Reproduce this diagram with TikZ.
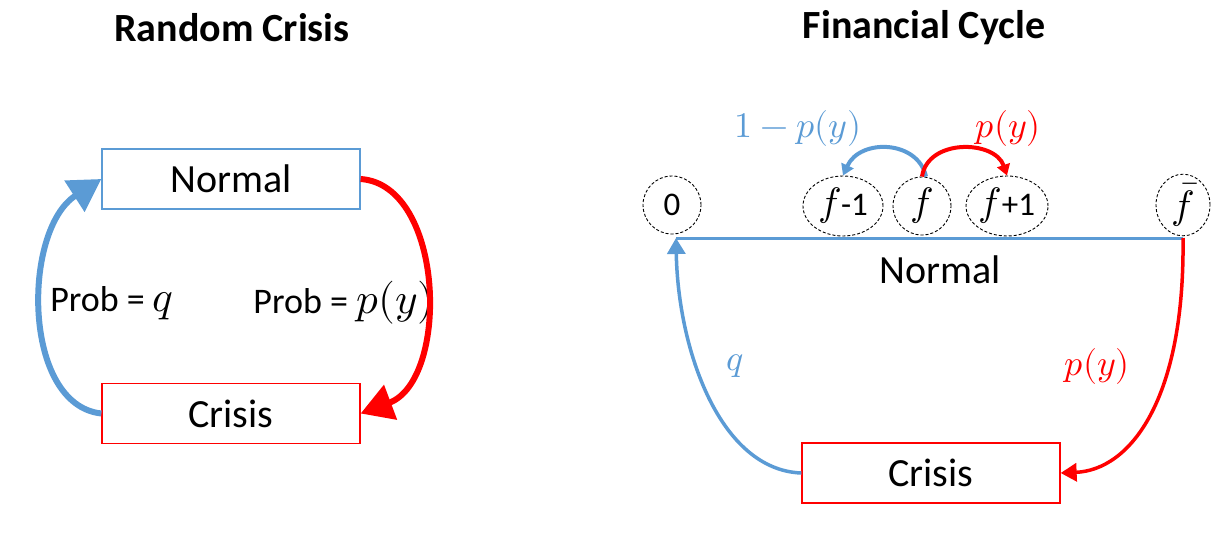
\documentclass[tikz,border=0pt]{standalone}
\usepackage{fontspec}
\usepackage{unicode-math}
\setmainfont{Carlito}
\setmathfont{Latin Modern Math}[Scale=1.2]
\usetikzlibrary{arrows.meta,shapes.geometric}
\definecolor{cblue}{HTML}{5B9BD5}
\definecolor{cred}{HTML}{FF0000}
\tikzset{
  ttl/.style={font=\fontsize{40}{48}\selectfont\bfseries, inner sep=0pt},
  boxtxt/.style={font=\fontsize{40}{48}\selectfont},
  nbox/.style={draw=cblue, line width=1.3pt, minimum width=258pt, minimum height=60pt, inner sep=0pt, boxtxt},
  cbox/.style={draw=cred, line width=1.3pt, minimum width=258pt, minimum height=60pt, inner sep=0pt, boxtxt},
  lbl/.style={font=\fontsize{36}{43}\selectfont, inner sep=0pt},
  st/.style={draw, dashed, dash pattern=on 3pt off 2pt, line width=0.9pt, inner sep=0pt, font=\fontsize{33}{40}\selectfont},
  bigb/.style={cblue, line width=6pt, -{Triangle[length=32pt,width=36pt]}},
  bigr/.style={cred, line width=6pt, -{Triangle[length=32pt,width=36pt]}},
  midb/.style={cblue, line width=3.5pt, -{Triangle[length=16pt,width=18pt]}},
  midr/.style={cred, line width=3.5pt, -{Triangle[length=16pt,width=18pt]}},
  smb/.style={cblue, line width=4pt, -{Triangle[length=11pt,width=13pt]}},
  smr/.style={cred, line width=4pt, -{Triangle[length=11pt,width=13pt]}},
  mlbl/.style={font=\fontsize{30}{36}\selectfont, inner sep=0pt},
}
\begin{document}
\begin{tikzpicture}[x=1pt,y=-1pt]
\useasboundingbox (0,0) rectangle (1219,552);
% ---------- left panel ----------
\node[ttl] (t1) at (232,28) {Random Crisis};
\node[nbox] (n1) at (231,179) {Normal};
\node[cbox] (c1) at (231,413.5) {Crisis};
\node[lbl] (pq) at (112,303) {Prob = $q$};
\node[lbl] (pp) at (344,303) {Prob = $p(y)$};
\draw[bigb] (c1.west) .. controls (22,405) and (22,230) .. (n1.west);
\draw[bigr] (n1.east) .. controls (445,185) and (450,380) .. (c1.east);
% ---------- right panel ----------
\node[ttl] (t2) at (924,28) {Financial Cycle};
\node[st, ellipse, minimum width=58pt, minimum height=58pt] (s0) at (672,205) {0};
\node[st, ellipse, minimum width=80pt, minimum height=60pt] (sm) at (843,206) {$f$-1};
\node[st, ellipse, minimum width=58pt, minimum height=58pt] (sf) at (922,206) {$f$};
\node[st, ellipse, minimum width=82pt, minimum height=60pt] (sp) at (1007,206) {$f$+1};
\node[st, ellipse, minimum width=54pt, minimum height=56pt] (sb) at (1183,205) {$\bar{f}$};
\coordinate (l0) at (676,238);
\coordinate (lb) at (1183,238);
\draw[cblue, line width=3pt] (lb) -- (l0);
\node[boxtxt] (nr) at (940,270) {Normal};
\node[cbox] (c2) at (931,473) {Crisis};
\draw[midb] (c2.west) .. controls (720,470) and (678,350) .. (l0);
\draw[midr] (lb) .. controls (1185,400) and (1130,470) .. (c2.east);
\node[mlbl, text=cblue] (lq) at (735,366) {$q$};
\node[mlbl, text=cred] (lp) at (1097,366) {$p(y)$};
\draw[smb] (sf.north) ++(4,0) coordinate (fb) .. controls (918,140) and (860,138) .. (sm.north);
\draw[smr] (sf.north) .. controls (928,138) and (995,140) .. (sp.north);
\node[mlbl, text=cblue] (l1) at (798,128) {$1-p(y)$};
\node[mlbl, text=cred] (l2) at (1008,128) {$p(y)$};
\end{tikzpicture}
\end{document}
